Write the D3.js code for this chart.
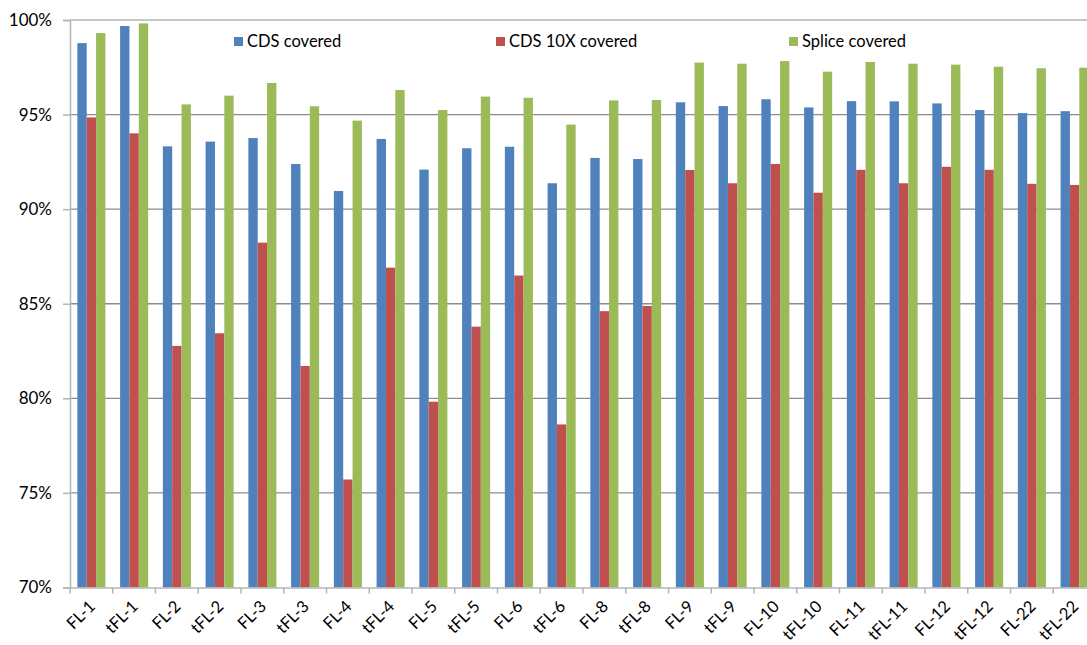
<!DOCTYPE html>
<html>
<head>
<meta charset="utf-8">
<script src="https://cdn.jsdelivr.net/npm/d3@7"></script>
<style>
  html, body { margin: 0; padding: 0; background: #fff; }
  svg { display: block; font-family: Lato, "Open Sans", sans-serif; }
</style>
</head>
<body>
<svg id="chart" width="1087" height="645"></svg>
<script>
// Samples on the x axis
const categories = ["FL-1", "tFL-1", "FL-2", "tFL-2", "FL-3", "tFL-3", "FL-4", "tFL-4",
  "FL-5", "tFL-5", "FL-6", "tFL-6", "FL-8", "tFL-8", "FL-9", "tFL-9",
  "FL-10", "tFL-10", "FL-11", "tFL-11", "FL-12", "tFL-12", "FL-22", "tFL-22"];

// Coverage (%) per sample
const cdsCovered = [98.78, 99.68, 93.32, 93.57, 93.76, 92.39, 90.96, 93.71,
  92.09, 93.22, 93.30, 91.37, 92.71, 92.65, 95.65, 95.45,
  95.81, 95.38, 95.71, 95.70, 95.59, 95.24, 95.08, 95.18];
const cds10xCovered = [94.85, 94.01, 82.77, 83.44, 88.23, 81.71, 75.71, 86.91,
  79.82, 83.79, 86.49, 78.62, 84.61, 84.88, 92.07, 91.37,
  92.39, 90.87, 92.08, 91.37, 92.24, 92.08, 91.34, 91.28];
const spliceCovered = [99.31, 99.82, 95.54, 96.00, 96.67, 95.44, 94.68, 96.30,
  95.24, 95.95, 95.89, 94.47, 95.75, 95.77, 97.75, 97.69,
  97.83, 97.27, 97.78, 97.69, 97.64, 97.53, 97.45, 97.48];

const seriesNames = ["CDS covered", "CDS 10X covered", "Splice covered"];
const seriesColors = ["#4F81BD", "#C0504D", "#9BBB59"];
const yTicks = [70, 75, 80, 85, 90, 95, 100];

const series = [cdsCovered, cds10xCovered, spliceCovered];

const svg = d3.select("#chart");
const plotLeft = 70, plotRight = 1096, plotTop = 20, plotBottom = 587.5;

const x0 = d3.scaleBand().domain(categories).range([plotLeft, plotRight])
  .paddingInner(0.344).paddingOuter(0.172);
const x1 = d3.scaleBand().domain(d3.range(series.length)).range([0, x0.bandwidth()]);
const y = d3.scaleLinear().domain([70, 100]).range([plotBottom, plotTop]);

// horizontal gridlines
svg.append("g").selectAll("line").data(yTicks.filter(t => t > 70)).join("line")
  .attr("x1", plotLeft).attr("x2", 1087)
  .attr("y1", d => y(d)).attr("y2", d => y(d))
  .attr("stroke", d => d === 100 ? "#b4b4b4" : "#8c8c8c")
  .attr("stroke-width", 1.3);

// bars
const rows = categories.map((c, i) => ({ c, vals: series.map(s => s[i]) }));
svg.append("g").selectAll("g").data(rows).join("g")
  .attr("transform", d => `translate(${x0(d.c)},0)`)
  .selectAll("rect").data(d => d.vals.map((v, k) => ({ v, k }))).join("rect")
  .attr("x", d => x1(d.k))
  .attr("width", x1.bandwidth())
  .attr("y", d => y(d.v))
  .attr("height", d => y(70) - y(d.v))
  .attr("fill", d => seriesColors[d.k]);

// y axis
const yAxis = d3.axisLeft(y).tickValues(yTicks).tickFormat(d => d + "%")
  .tickSize(7).tickPadding(11);
const gy = svg.append("g").attr("transform", `translate(${plotLeft},0)`).call(yAxis);
gy.select(".domain").attr("stroke", "#b4b4b4").attr("stroke-width", 1.5);
gy.selectAll(".tick line").attr("stroke", "#b4b4b4").attr("stroke-width", 1.5);
gy.selectAll(".tick text").attr("font-size", 17).attr("fill", "#000")
  .attr("font-family", "Lato, sans-serif");

// x axis
const xAxis = d3.axisBottom(x0).tickSize(0).tickFormat(d => d);
const gx = svg.append("g").attr("transform", `translate(0,${plotBottom})`).call(xAxis);
gx.select(".domain").attr("stroke", "#b4b4b4").attr("stroke-width", 1.5);
gx.selectAll(".tick text")
  .attr("font-size", 16.5).attr("fill", "#000").attr("font-family", "Lato, sans-serif")
  .attr("text-anchor", "end")
  .attr("dy", 0).attr("y", 0)
  .attr("transform", "translate(5,20) rotate(-45)");
// category separators on the x axis
svg.append("g").selectAll("line").data(d3.range(categories.length + 1)).join("line")
  .attr("x1", i => plotLeft + i * x0.step()).attr("x2", i => plotLeft + i * x0.step())
  .attr("y1", plotBottom).attr("y2", plotBottom + 6)
  .attr("stroke", "#b4b4b4").attr("stroke-width", 1.5);

// legend
const legendX = [234, 496, 789];
const lg = svg.append("g").selectAll("g").data(seriesNames).join("g")
  .attr("transform", (d, i) => `translate(${legendX[i]},37)`);
lg.append("rect").attr("width", 9).attr("height", 9)
  .attr("fill", (d, i) => seriesColors[i]);
lg.append("text").attr("x", 13).attr("y", 10)
  .attr("font-size", 16.5).attr("font-family", "Lato, sans-serif").attr("fill", "#000")
  .text(d => d);
</script>
</body>
</html>
